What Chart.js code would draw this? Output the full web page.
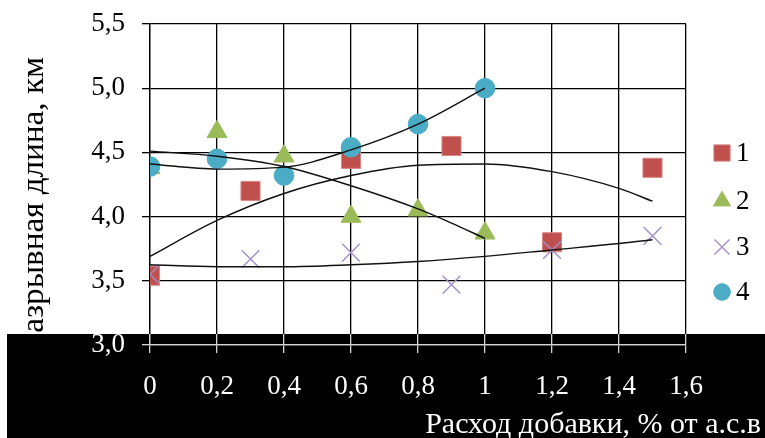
<!DOCTYPE html>
<html>
<head>
<meta charset="utf-8">
<script src="https://cdn.jsdelivr.net/npm/chart.js"></script>
<style>
  html, body { margin: 0; padding: 0; background: #fff; }
  canvas { display: block; }
</style>
</head>
<body>
<canvas id="chart" width="765" height="438"></canvas>
<script>
// additive dose, % of dry fibre
const doseA = [0, 0.3, 0.6, 0.9, 1.2, 1.5];   // series 1 and 3
const doseB = [0, 0.2, 0.4, 0.6, 0.8, 1.0];   // series 2 and 4

// breaking length, km
const len1 = [3.54, 4.20, 4.45, 4.55, 3.80, 4.38];
const len2 = [4.38, 4.66, 4.47, 4.00, 4.05, 3.87];
const len3 = [3.55, 3.67, 3.72, 3.47, 3.74, 3.85];
const len4 = [4.39, 4.45, 4.32, 4.54, 4.72, 5.00];

// trend curves
const trendX1 = [0, 0.2, 0.4, 0.6, 0.8, 1.0, 1.2, 1.4, 1.5];
const trend1 = [3.69, 3.97, 4.18, 4.32, 4.40, 4.41, 4.35, 4.22, 4.12];
const trendX2 = [0, 0.2, 0.4, 0.6, 0.8, 0.9, 1.0];
const trend2 = [4.51, 4.47, 4.39, 4.24, 4.06, 3.95, 3.83];
const trendX3 = [0, 0.2, 0.4, 0.6, 0.8, 1.0, 1.2, 1.4, 1.5];
const trend3 = [3.625, 3.61, 3.61, 3.625, 3.65, 3.69, 3.74, 3.79, 3.82];
const trendX4 = [0, 0.2, 0.4, 0.6, 0.8, 1.0];
const trend4 = [4.41, 4.37, 4.385, 4.52, 4.72, 5.00];

const seriesNames = ["1", "2", "3", "4"];
const xTicks = [0, 0.2, 0.4, 0.6, 0.8, 1.0, 1.2, 1.4, 1.6];
const yTicks = [3.0, 3.5, 4.0, 4.5, 5.0, 5.5];

const xTitle = "Расход добавки, % от а.с.в";
const yTitle = "Разрывная длина, км";

const serif = "'Liberation Serif', 'Times New Roman', serif";
const BAND_TOP = 334;

const pts = (xs, ys) => xs.map((x, i) => ({ x: x, y: ys[i] }));
const commaNum = (v, digits) => {
  if (digits === 0 && Math.abs(v - Math.round(v)) < 1e-9) return String(Math.round(v));
  return v.toFixed(1).replace(".", ",");
};

const canvas = document.getElementById("chart");
const ctx = canvas.getContext("2d");

// grid is black over the plot, light grey inside the dark band
const gridPaint = ctx.createLinearGradient(0, 0, 0, 438);
gridPaint.addColorStop(0, "#000");
gridPaint.addColorStop(BAND_TOP / 438, "#000");
gridPaint.addColorStop(BAND_TOP / 438, "#d4d4d4");
gridPaint.addColorStop(1, "#d4d4d4");

function trendSet(xs, ys) {
  return {
    type: "line",
    data: pts(xs, ys),
    showLine: true,
    borderColor: "#111",
    borderWidth: 1.4,
    pointRadius: 0,
    cubicInterpolationMode: "monotone",
    fill: false,
    order: 0
  };
}

const markers = [
  { label: seriesNames[0], data: pts(doseA, len1), pointStyle: "rect", pointRadius: 13.5,
    backgroundColor: "#c0504d", borderColor: "#d58784", borderWidth: 1, order: 4 },
  { label: seriesNames[1], data: pts(doseB, len2), pointStyle: "triangle", pointRadius: 11.5,
    backgroundColor: "#9bbb59", borderColor: "#9bbb59", borderWidth: 1, order: 3 },
  { label: seriesNames[2], data: pts(doseA, len3), pointStyle: "crossRot", pointRadius: 12.5,
    backgroundColor: "#a08fca", borderColor: "#a08fca", borderWidth: 1.4, order: 2 },
  { label: seriesNames[3], data: pts(doseB, len4), pointStyle: "circle", pointRadius: 9.8,
    backgroundColor: "#4bacc6", borderColor: "#4bacc6", borderWidth: 1, order: 1 }
];

const decor = {
  id: "decor",
  beforeDraw(chart) {
    const c = chart.ctx;
    c.save();
    c.fillStyle = "#fff";
    c.fillRect(0, 0, chart.width, chart.height);
    c.fillStyle = "#000";
    c.fillRect(7, BAND_TOP, chart.width - 7, chart.height - BAND_TOP);
    c.restore();
  },
  afterDraw(chart) {
    const c = chart.ctx;
    c.save();

    // y axis title (its tail disappears in the band)
    c.fillStyle = "#000";
    c.font = "31px " + serif;
    c.translate(43, 57);
    c.rotate(-Math.PI / 2);
    c.scale(1.07, 1);
    c.textAlign = "right";
    c.textBaseline = "alphabetic";
    c.fillText(yTitle, 0, 0);
    c.setTransform(1, 0, 0, 1, 0, 0);

    // x axis title
    c.fillStyle = "#fff";
    c.font = "30px " + serif;
    c.textAlign = "right";
    c.fillText(xTitle, 761, 433);

    // legend
    const rowsY = [153, 201, 247, 292];
    markers.forEach((ds, i) => {
      c.fillStyle = ds.backgroundColor;
      c.strokeStyle = ds.borderColor;
      c.lineWidth = ds.borderWidth;
      Chart.helpers.drawPoint(c, {
        pointStyle: ds.pointStyle,
        radius: ds.pointRadius * 0.85,
        rotation: 0,
        borderWidth: ds.borderWidth
      }, 722, rowsY[i]);
      c.fillStyle = "#000";
      c.font = "27px " + serif;
      c.textAlign = "left";
      c.textBaseline = "middle";
      c.fillText(ds.label, 736, rowsY[i] + 1);
    });
    c.restore();
  }
};

new Chart(canvas, {
  type: "scatter",
  data: {
    datasets: [
      trendSet(trendX1, trend1),
      trendSet(trendX2, trend2),
      trendSet(trendX3, trend3),
      trendSet(trendX4, trend4),
      ...markers
    ]
  },
  options: {
    responsive: false,
    devicePixelRatio: 1,
    animation: false,
    layout: { padding: { top: 24, right: 79, left: 0, bottom: 0 } },
    plugins: {
      legend: { display: false },
      tooltip: { enabled: false }
    },
    scales: {
      x: {
        type: "linear",
        min: xTicks[0],
        max: xTicks[xTicks.length - 1],
        afterBuildTicks: (s) => { s.ticks = xTicks.map(v => ({ value: v })); },
        afterFit: (s) => { s.height = 93; s.paddingLeft = 0; s.paddingRight = 0; },
        ticks: {
          color: "#fff",
          font: { family: serif, size: 27 },
          padding: 18,
          maxRotation: 0,
          autoSkip: false,
          callback: (v) => commaNum(v, 0)
        },
        grid: { color: gridPaint, lineWidth: 1.3, tickLength: 8, tickColor: gridPaint },
        border: { color: gridPaint, width: 1.3 }
      },
      y: {
        min: yTicks[0],
        max: yTicks[yTicks.length - 1],
        afterBuildTicks: (s) => { s.ticks = yTicks.map(v => ({ value: v })); },
        afterFit: (s) => { s.width = 150; s.paddingTop = 0; s.paddingBottom = 0; },
        ticks: {
          color: (c) => (c.tick && Math.abs(c.tick.value - 3) < 1e-9 ? "#fff" : "#000"),
          font: { family: serif, size: 27 },
          padding: 17,
          callback: (v) => commaNum(v, 1)
        },
        grid: { color: gridPaint, lineWidth: 1.3, tickLength: 8, tickColor: gridPaint },
        border: { color: gridPaint, width: 1.3 }
      }
    }
  },
  plugins: [decor]
});
</script>
</body>
</html>
